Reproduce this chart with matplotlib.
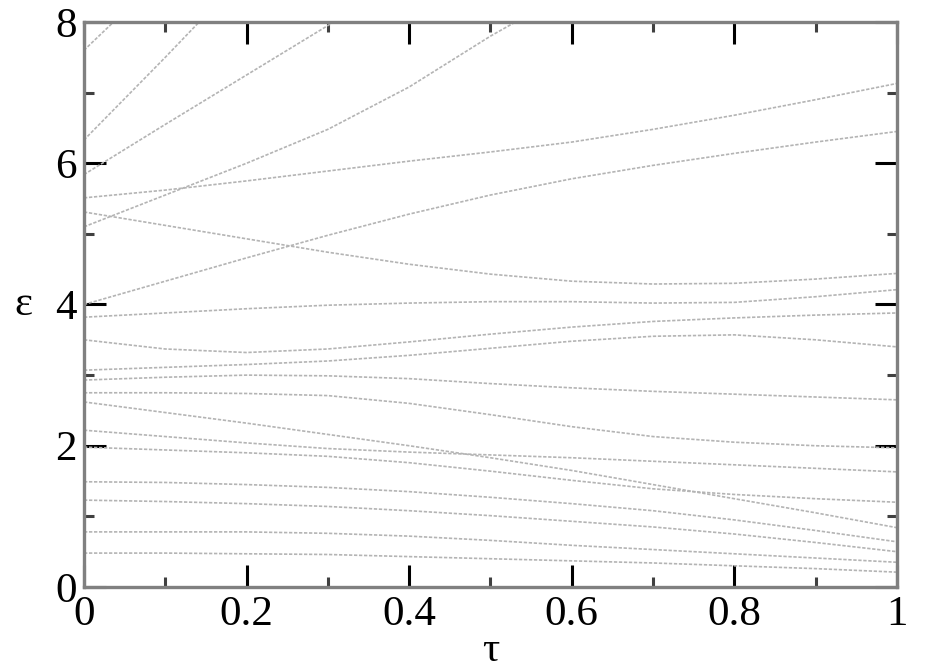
import numpy as np
import matplotlib
matplotlib.use('Agg')
import matplotlib.pyplot as plt
from matplotlib.ticker import MultipleLocator

plt.rcParams['font.family'] = ['Liberation Serif', 'DejaVu Serif']

nan = np.nan
tau = [0.0, 0.1, 0.2, 0.3, 0.4, 0.5, 0.6, 0.7, 0.8, 0.9, 1.0]

# energy levels (nan = outside the plotted range)
lvl_a = [7.60, 8.70, nan, nan, nan, nan, nan, nan, nan, nan, nan]
lvl_b = [6.33, 7.50, 8.70, nan, nan, nan, nan, nan, nan, nan, nan]
lvl_c = [5.84, 6.55, 7.25, 7.95, 8.65, nan, nan, nan, nan, nan, nan]
lvl_d = [5.51, 5.62, 5.75, 5.89, 6.03, 6.16, 6.30, 6.48, 6.68, 6.90, 7.13]
lvl_e = [5.10, 5.55, 6.00, 6.48, 7.08, 7.80, 8.45, nan, nan, nan, nan]
lvl_f = [4.00, 4.33, 4.66, 4.98, 5.28, 5.55, 5.78, 5.97, 6.14, 6.30, 6.45]
lvl_g = [5.31, 5.12, 4.93, 4.74, 4.57, 4.43, 4.33, 4.29, 4.30, 4.36, 4.44]
lvl_h = [3.82, 3.88, 3.94, 3.99, 4.02, 4.04, 4.04, 4.02, 4.03, 4.11, 4.21]
lvl_i = [3.50, 3.37, 3.32, 3.37, 3.47, 3.58, 3.68, 3.76, 3.81, 3.85, 3.88]
lvl_j = [3.07, 3.11, 3.15, 3.20, 3.28, 3.38, 3.48, 3.55, 3.57, 3.50, 3.40]
lvl_k = [2.93, 2.97, 3.00, 2.99, 2.95, 2.88, 2.82, 2.77, 2.73, 2.69, 2.65]
lvl_l = [2.75, 2.75, 2.74, 2.71, 2.60, 2.44, 2.27, 2.13, 2.05, 2.00, 1.97]
lvl_m = [2.62, 2.47, 2.32, 2.16, 2.00, 1.83, 1.65, 1.45, 1.25, 1.05, 0.84]
lvl_n = [2.22, 2.13, 2.04, 1.96, 1.91, 1.87, 1.83, 1.78, 1.73, 1.68, 1.63]
lvl_o = [1.98, 1.94, 1.90, 1.85, 1.76, 1.64, 1.51, 1.39, 1.31, 1.25, 1.20]
lvl_p = [1.49, 1.48, 1.45, 1.41, 1.35, 1.27, 1.18, 1.08, 0.95, 0.80, 0.64]
lvl_q = [1.23, 1.21, 1.18, 1.14, 1.08, 1.01, 0.93, 0.85, 0.75, 0.63, 0.50]
lvl_r = [0.78, 0.78, 0.78, 0.76, 0.72, 0.66, 0.59, 0.53, 0.47, 0.41, 0.35]
lvl_s = [0.48, 0.48, 0.47, 0.46, 0.43, 0.40, 0.37, 0.34, 0.30, 0.26, 0.21]

levels = [lvl_a, lvl_b, lvl_c, lvl_d, lvl_e, lvl_f, lvl_g, lvl_h, lvl_i,
          lvl_j, lvl_k, lvl_l, lvl_m, lvl_n, lvl_o, lvl_p, lvl_q, lvl_r, lvl_s]

xticks = [0, 0.2, 0.4, 0.6, 0.8, 1]
xticklabels = ['0', '0.2', '0.4', '0.6', '0.8', '1']
yticks = [0, 2, 4, 6, 8]

fig = plt.figure(figsize=(9.28, 6.69), dpi=100)
ax = fig.add_axes([0.0905, 0.1226, 0.876, 0.8445])

for lv in levels:
    ax.plot(tau, lv, color='#b4b4b4', lw=1.2, ls=(0, (2, 1)))

ax.set_xlim(0, 1)
ax.set_ylim(0, 8)
ax.set_xticks(xticks)
ax.set_xticklabels(xticklabels)
ax.set_yticks(yticks)
ax.xaxis.set_minor_locator(MultipleLocator(0.1))
ax.yaxis.set_minor_locator(MultipleLocator(1))

for s in ax.spines.values():
    s.set_color('#808080')
    s.set_linewidth(2.4)

ax.tick_params(which='major', direction='in', length=16, width=2.2,
               color='black', top=True, right=True, labelsize=31)
ax.tick_params(which='minor', direction='in', length=7, width=2.2,
               color='#404040', top=True, right=True)
ax.tick_params(axis='x', which='major', pad=6)
ax.tick_params(axis='y', which='major', pad=5)

ax.set_xlabel('τ', fontsize=31, labelpad=-2)
ax.set_ylabel('ε', fontsize=31, rotation=0, va='center')
ax.yaxis.set_label_coords(-0.075, 0.5)

fig.savefig('out.png', dpi=100)
